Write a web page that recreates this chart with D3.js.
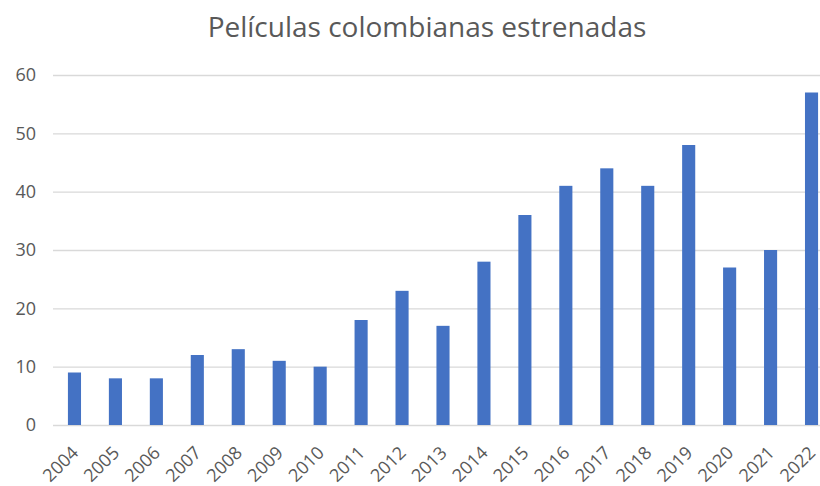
<!DOCTYPE html>
<html>
<head>
<meta charset="utf-8">
<script src="https://cdn.jsdelivr.net/npm/d3@7"></script>
<style>
  body { margin: 0; background: #fff; }
  svg { display: block; font-family: "Open Sans", "Noto Sans", sans-serif; }
</style>
</head>
<body>
<div id="chart"></div>
<script>
var years = ["2004", "2005", "2006", "2007", "2008", "2009", "2010", "2011", "2012", "2013",
             "2014", "2015", "2016", "2017", "2018", "2019", "2020", "2021", "2022"];
var peliculas = [9, 8, 8, 12, 13, 11, 10, 18, 23, 17, 28, 36, 41, 44, 41, 48, 27, 30, 57];
var yTicks = [0, 10, 20, 30, 40, 50, 60];

var width = 820, height = 486;

var svg = d3.select("#chart").append("svg")
    .attr("width", width)
    .attr("height", height);

svg.append("text")
    .attr("x", 427)
    .attr("y", 37)
    .attr("text-anchor", "middle")
    .attr("fill", "#595959")
    .style("font-size", "28px")
    .text("Películas colombianas estrenadas");

// the right end of the plot is cut off in the original
var x = d3.scaleBand().domain(years).range([54, 832]).paddingInner(0.68).paddingOuter(0.34);
var y = d3.scaleLinear().domain([0, 60]).range([425, 75]);

var grid = svg.append("g")
    .attr("transform", "translate(53,0)")
    .call(d3.axisLeft(y).tickValues(yTicks).tickSize(-(width - 53)).tickFormat(""));
grid.select(".domain").remove();
grid.selectAll("line").attr("stroke", "#d9d9d9").attr("stroke-width", 1.3);

var yAxis = svg.append("g")
    .attr("transform", "translate(53,0)")
    .call(d3.axisLeft(y).tickValues(yTicks).tickSize(0).tickPadding(17));
yAxis.select(".domain").remove();
yAxis.selectAll("text")
    .attr("fill", "#595959")
    .style("font-size", "18px")
    .style("font-family", "'Open Sans', sans-serif");

svg.append("g").selectAll("rect")
    .data(peliculas)
    .enter()
    .append("rect")
    .attr("x", function (d, i) { return x(years[i]); })
    .attr("y", function (d) { return y(d); })
    .attr("width", x.bandwidth())
    .attr("height", function (d) { return y(0) - y(d); })
    .attr("fill", "#4472c4");

var xAxis = svg.append("g")
    .attr("transform", "translate(0,425)")
    .call(d3.axisBottom(x).tickSize(0).tickPadding(0));
xAxis.select(".domain").remove();
xAxis.selectAll("text")
    .attr("fill", "#595959")
    .style("font-size", "18px")
    .style("font-family", "'Open Sans', sans-serif")
    .attr("text-anchor", "end")
    .attr("dy", 0)
    .attr("transform", "translate(5,29) rotate(-45)");
</script>
</body>
</html>
